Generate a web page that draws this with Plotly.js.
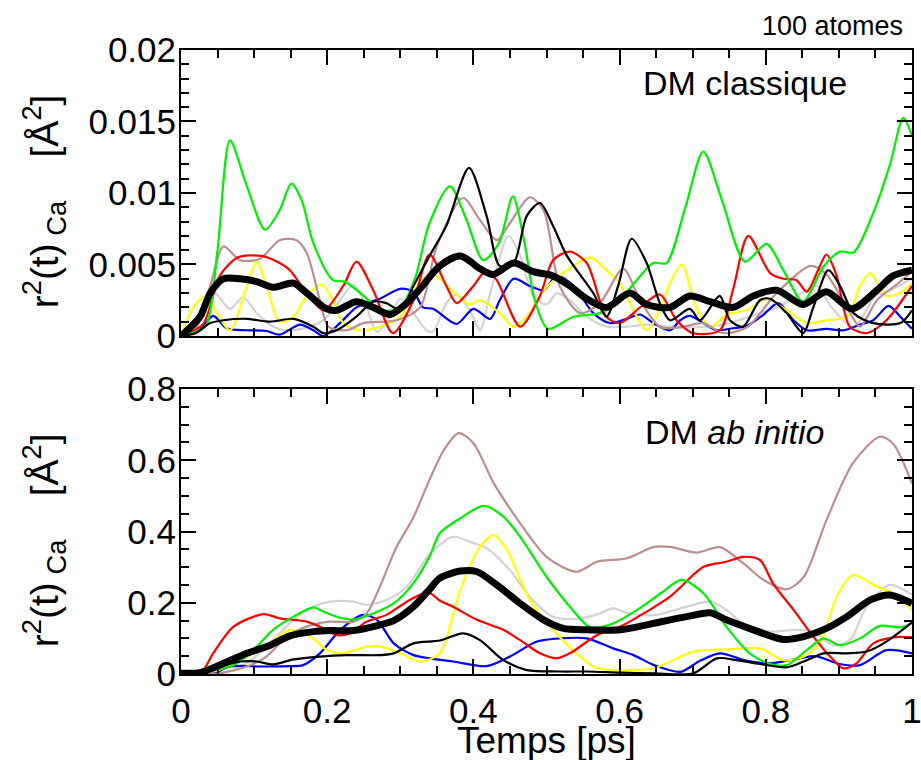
<!DOCTYPE html>
<html>
<head>
<meta charset="utf-8">
<script src="https://cdn.plot.ly/plotly-3.0.1.min.js"></script>
<style>html,body{margin:0;padding:0;background:#fff;}#chart{width:921px;height:760px;}</style>
</head>
<body>
<div id="chart"></div>
<script>
// ---------- DM classique (top panel) ----------
const clsGreenX = [0,0.02,0.035,0.05,0.067,0.09,0.115,0.135,0.151,0.165,0.181,0.208,0.224,0.25,0.272,0.30,0.32,0.34,0.368,0.39,0.4135,0.435,0.454,0.47,0.484,0.502,0.537,0.573,0.60,0.625,0.646,0.664,0.69,0.7145,0.74,0.7716,0.801,0.825,0.851,0.879,0.9015,0.92,0.947,0.97,0.988,1.0];
const clsGreenY = [0,0.0003,0.0008,0.006,0.01368,0.0105,0.00743,0.0088,0.01065,0.0095,0.0065,0.0039,0.0038,0.0028,0.0018,0.002,0.004,0.0079,0.01046,0.0082,0.0053,0.0065,0.00976,0.0065,0.0025,0.0005,0.00135,0.0016,0.0025,0.004,0.0051,0.0051,0.009,0.0129,0.0095,0.0052,0.00644,0.0045,0.0024,0.00486,0.0059,0.00584,0.0086,0.012,0.01525,0.014];

const clsRedX = [0,0.03,0.053,0.078,0.11,0.135,0.149,0.172,0.195,0.222,0.240,0.263,0.29,0.318,0.34,0.363,0.377,0.40,0.418,0.432,0.464,0.491,0.509,0.532,0.555,0.582,0.60,0.628,0.655,0.678,0.70,0.737,0.755,0.776,0.806,0.824,0.842,0.856,0.874,0.883,0.897,0.915,0.938,0.965,1.0];
const clsRedY = [0,0.0008,0.0042,0.0055,0.0056,0.0051,0.0046,0.003,0.0018,0.0035,0.0052,0.0032,0.0002,0.0025,0.0057,0.0035,0.0023,0.0035,0.0046,0.0039,0.00065,0.0028,0.0053,0.0059,0.0051,0.00135,0.0009,0.002,0.0029,0.0011,0.0002,0.0004,0.0032,0.007,0.0044,0.004,0.0039,0.0031,0.0049,0.0057,0.0042,0.00065,0.0002,0.0011,0.0035];

const clsBrownX = [0,0.02,0.04,0.058,0.081,0.108,0.135,0.158,0.172,0.19,0.2015,0.227,0.249,0.295,0.327,0.35,0.386,0.409,0.432,0.45,0.477,0.496,0.518,0.546,0.573,0.605,0.628,0.655,0.683,0.714,0.742,0.774,0.815,0.861,0.883,0.911,0.929,0.952,0.979,1.0];
const clsBrownY = [0,0.0005,0.0035,0.00626,0.0053,0.0054,0.0067,0.0067,0.0058,0.0025,0.00065,0.0004,0.0009,0.0011,0.002,0.0063,0.00965,0.0081,0.0067,0.0079,0.0097,0.0088,0.0035,0.0016,0.0023,0.0047,0.0025,0.00065,0.0006,0.0009,0.0002,0.0006,0.003,0.0049,0.0043,0.002,0.00065,0.0025,0.0036,0.0045];

const clsBlackX = [0,0.02,0.04,0.058,0.09,0.122,0.154,0.181,0.195,0.213,0.24,0.263,0.281,0.30,0.318,0.34,0.363,0.394,0.418,0.436,0.455,0.473,0.491,0.509,0.528,0.564,0.582,0.598,0.6165,0.637,0.655,0.669,0.696,0.71,0.737,0.751,0.769,0.792,0.806,0.8285,0.851,0.865,0.8855,0.9015,0.92,0.947,0.984,1.0];
const clsBlackY = [0,0.0002,0.0009,0.0011,0.0012,0.001,0.0012,0.00065,0.0002,0.0004,0.00135,0.0024,0.0023,0.0018,0.0035,0.0056,0.0077,0.01175,0.0084,0.0049,0.0051,0.0084,0.0093,0.0077,0.0056,0.003,0.00135,0.0035,0.0068,0.0051,0.0023,0.0011,0.0019,0.0011,0.0028,0.0011,0.00065,0.0025,0.0026,0.0016,0.0002,0.002,0.0046,0.0035,0.0016,0.0009,0.0009,0.0018];

const clsYellowX = [0,0.017,0.035,0.049,0.067,0.09,0.1035,0.117,0.135,0.154,0.172,0.1925,0.208,0.222,0.245,0.272,0.30,0.327,0.345,0.3725,0.395,0.409,0.436,0.455,0.477,0.496,0.523,0.5595,0.582,0.60,0.619,0.637,0.655,0.669,0.685,0.705,0.724,0.7465,0.774,0.801,0.8285,0.856,0.883,0.911,0.929,0.943,0.965,0.984,1.0];
const clsYellowY = [0,0.002,0.0028,0.0016,0.0004,0.0035,0.0052,0.0035,0.001,0.00135,0.0028,0.0036,0.0025,0.0009,0.0004,0.00065,0.00135,0.0038,0.0043,0.0031,0.0022,0.0025,0.0016,0.00065,0.0016,0.0032,0.0044,0.0055,0.0046,0.0037,0.0018,0.0004,0.0018,0.0037,0.005,0.002,0.00065,0.0015,0.0018,0.0026,0.0018,0.0009,0.0011,0.00135,0.0035,0.0044,0.0028,0.003,0.0037];

const clsBlueX = [0,0.025,0.044,0.0625,0.09,0.117,0.135,0.163,0.181,0.195,0.2175,0.24,0.272,0.30,0.318,0.331,0.345,0.377,0.40,0.423,0.436,0.455,0.477,0.496,0.514,0.537,0.564,0.587,0.61,0.628,0.646,0.669,0.683,0.696,0.7145,0.733,0.755,0.774,0.797,0.817,0.838,0.856,0.883,0.906,0.929,0.947,0.968,0.984,1.0];
const clsBlueY = [0,0.0004,0.0014,0.00054,0.0004,0.00035,0.0001,0.0008,0.0004,0,0.0009,0.002,0.0026,0.0033,0.0031,0.002,0.0019,0.00084,0.0019,0.0012,0.0025,0.004,0.0035,0.0032,0.0042,0.0035,0.0016,0.0009,0.0012,0.0015,0.0009,0.0004,0.0011,0.0014,0.0009,0.0004,0.00054,0.0007,0.0015,0.0023,0.0011,0.0004,0.0005,0.0004,0.0008,0.0011,0.0021,0.00135,0.0005];

const clsGrayX = [0,0.02,0.044,0.067,0.085,0.1035,0.126,0.149,0.172,0.195,0.2175,0.236,0.254,0.268,0.286,0.30,0.318,0.336,0.345,0.363,0.377,0.395,0.409,0.423,0.448,0.464,0.482,0.50,0.514,0.532,0.555,0.582,0.61,0.637,0.683,0.742,0.792,0.815,0.85,0.87,0.89,0.92,0.95,0.97,1.0];
const clsGrayY = [0,0.001,0.0031,0.0019,0.0027,0.0016,0.00065,0.0004,0.0006,0.0011,0.0025,0.0036,0.002,0.0003,0.00135,0.0026,0.0016,0.0004,0.0003,0.0023,0.0029,0.0018,0.0004,0.003,0.007,0.0056,0.0028,0.0022,0.003,0.0025,0.00135,0.00065,0.00065,0.0008,0.0006,0.0008,0.0016,0.002,0.003,0.0035,0.002,0.0006,0.0028,0.0032,0.004];

const clsMeanX = [0,0.026,0.04,0.058,0.081,0.1035,0.126,0.154,0.172,0.199,0.213,0.24,0.263,0.286,0.309,0.327,0.354,0.382,0.409,0.427,0.455,0.482,0.509,0.532,0.555,0.582,0.614,0.637,0.669,0.696,0.724,0.755,0.783,0.815,0.851,0.883,0.9175,0.952,0.974,1.0];
const clsMeanY = [0,0.00135,0.003,0.004,0.004,0.0038,0.0034,0.0037,0.003,0.0019,0.0018,0.0024,0.002,0.0015,0.0023,0.0033,0.0049,0.0056,0.0047,0.0043,0.0051,0.0045,0.0042,0.0035,0.0026,0.002,0.003,0.0022,0.002,0.0028,0.0024,0.002,0.0028,0.0032,0.0022,0.0031,0.0019,0.0032,0.0042,0.0046];

// ---------- DM ab initio (bottom panel) ----------
const abiRedX = [0,0.027,0.044,0.072,0.113,0.135,0.154,0.172,0.195,0.213,0.231,0.254,0.281,0.313,0.338,0.355,0.372,0.405,0.441,0.464,0.491,0.514,0.532,0.569,0.601,0.637,0.669,0.715,0.746,0.769,0.792,0.81,0.838,0.865,0.888,0.906,0.924,0.947,0.975,1.0];
const abiRedY = [0,0.003,0.058,0.133,0.168,0.156,0.152,0.147,0.128,0.109,0.114,0.147,0.166,0.208,0.229,0.205,0.189,0.152,0.124,0.095,0.058,0.044,0.058,0.109,0.133,0.175,0.217,0.301,0.315,0.329,0.320,0.254,0.180,0.105,0.049,0.016,0.030,0.086,0.103,0.103];

const abiGreenX = [0,0.044,0.072,0.099,0.126,0.154,0.181,0.195,0.218,0.236,0.263,0.291,0.318,0.341,0.354,0.382,0.414,0.441,0.464,0.5,0.532,0.56,0.591,0.624,0.656,0.685,0.715,0.746,0.778,0.806,0.829,0.856,0.879,0.901,0.929,0.956,0.984,1.0];
const abiGreenY = [0,0.011,0.025,0.067,0.124,0.161,0.187,0.175,0.158,0.153,0.170,0.198,0.255,0.334,0.395,0.437,0.472,0.442,0.385,0.273,0.189,0.131,0.142,0.180,0.226,0.264,0.226,0.133,0.058,0.028,0.025,0.067,0.100,0.081,0.100,0.135,0.131,0.142];

const abiBrownX = [0,0.053,0.09,0.117,0.145,0.172,0.204,0.236,0.254,0.272,0.295,0.318,0.341,0.36,0.38,0.40,0.428,0.464,0.5,0.541,0.569,0.61,0.647,0.669,0.706,0.737,0.769,0.797,0.829,0.852,0.883,0.919,0.956,0.974,1.0];
const abiBrownY = [0,0.002,0.021,0.049,0.105,0.133,0.147,0.147,0.170,0.245,0.357,0.44,0.55,0.63,0.676,0.648,0.535,0.423,0.329,0.287,0.315,0.325,0.357,0.357,0.341,0.356,0.311,0.264,0.238,0.273,0.432,0.591,0.666,0.647,0.535];

const abiGrayX = [0,0.06,0.09,0.126,0.154,0.181,0.204,0.236,0.254,0.281,0.309,0.341,0.372,0.395,0.418,0.45,0.477,0.509,0.546,0.573,0.591,0.61,0.647,0.692,0.724,0.746,0.769,0.806,0.838,0.865,0.892,0.915,0.938,0.97,1.0];
const abiGrayY = [0,0.005,0.030,0.095,0.152,0.189,0.203,0.203,0.194,0.208,0.245,0.339,0.385,0.371,0.353,0.292,0.217,0.161,0.156,0.170,0.184,0.172,0.165,0.189,0.203,0.180,0.142,0.119,0.124,0.119,0.081,0.095,0.189,0.250,0.222];

const abiYellowX = [0,0.05,0.1,0.13,0.149,0.177,0.2,0.222,0.254,0.272,0.3,0.327,0.354,0.382,0.409,0.428,0.446,0.477,0.509,0.541,0.569,0.61,0.647,0.701,0.746,0.792,0.824,0.852,0.874,0.897,0.919,0.952,0.975,1.0];
const abiYellowY = [0,0.01,0.06,0.1,0.124,0.105,0.067,0.058,0.077,0.077,0.058,0.035,0.058,0.236,0.357,0.390,0.348,0.208,0.124,0.058,0.016,0.011,0.016,0.063,0.069,0.072,0.039,0.049,0.086,0.217,0.278,0.245,0.226,0.180];

const abiBlueX = [0,0.044,0.067,0.113,0.149,0.167,0.19,0.218,0.249,0.268,0.291,0.318,0.341,0.372,0.418,0.45,0.487,0.519,0.555,0.591,0.619,0.647,0.683,0.71,0.737,0.774,0.806,0.846,0.868,0.901,0.929,0.965,1.0];
const abiBlueY = [0,0.002,0.021,0.021,0.022,0.025,0.058,0.124,0.166,0.152,0.086,0.053,0.044,0.035,0.022,0.049,0.091,0.100,0.100,0.072,0.053,0.025,0.006,0.037,0.058,0.037,0.030,0.044,0.050,0.028,0.025,0.067,0.058];

const abiBlackX = [0,0.044,0.081,0.104,0.126,0.154,0.19,0.227,0.272,0.291,0.318,0.354,0.386,0.409,0.441,0.473,0.519,0.555,0.601,0.647,0.701,0.733,0.76,0.792,0.829,0.852,0.879,0.911,0.938,0.965,1.0];
const abiBlackY = [0,0.016,0.035,0.035,0.027,0.041,0.049,0.053,0.053,0.058,0.086,0.094,0.114,0.095,0.039,0.011,0.007,0.007,0.004,0.002,0.002,0.044,0.039,0.028,0.019,0.035,0.058,0.058,0.063,0.091,0.145];

const abiMeanX = [0,0.026,0.053,0.09,0.122,0.149,0.181,0.204,0.236,0.263,0.291,0.318,0.341,0.354,0.382,0.405,0.432,0.464,0.496,0.523,0.555,0.601,0.637,0.669,0.692,0.724,0.746,0.783,0.824,0.852,0.883,0.911,0.943,0.97,1.0];
const abiMeanY = [0.002,0.004,0.025,0.058,0.081,0.107,0.119,0.122,0.122,0.133,0.150,0.189,0.240,0.269,0.289,0.287,0.250,0.198,0.152,0.128,0.124,0.124,0.138,0.152,0.161,0.172,0.152,0.124,0.097,0.105,0.128,0.161,0.208,0.222,0.198];

// ticks and labels
const xTickVals = [0, 0.2, 0.4, 0.6, 0.8, 1];
const xTickText = ['0', '0.2', '0.4', '0.6', '0.8', '1'];
const panelLabels = ['DM classique', 'DM <i>ab initio</i>'];
const cornerLabel = '100 atomes';
const xTitle = 'Temps [ps]';
const yTitle = 'r<sup>2</sup>(t)<sub> Ca</sub>    [Å<sup>2</sup>]';

const colors = {red:'#ff0000', green:'#00ee00', brown:'#bc8f8f', black:'#000000', yellow:'#ffff00', blue:'#0000ff', gray:'#d3d3d3'};

function tr(x, y, color, w, xa, ya) {
  return {x:x, y:y, xaxis:xa, yaxis:ya, type:'scatter', mode:'lines',
    line:{color:color, width:w, shape:'spline', smoothing:0.8}, hoverinfo:'skip'};
}

const thin = 2.2, thick = 7;
const traces = [
  tr(clsGrayX, clsGrayY, colors.gray, thin, 'x', 'y'),
  tr(clsBlueX, clsBlueY, colors.blue, thin, 'x', 'y'),
  tr(clsYellowX, clsYellowY, colors.yellow, thin, 'x', 'y'),
  tr(clsBrownX, clsBrownY, colors.brown, thin, 'x', 'y'),
  tr(clsRedX, clsRedY, colors.red, thin, 'x', 'y'),
  tr(clsGreenX, clsGreenY, colors.green, thin, 'x', 'y'),
  tr(clsBlackX, clsBlackY, colors.black, thin, 'x', 'y'),
  tr(clsMeanX, clsMeanY, colors.black, thick, 'x', 'y'),
  tr(abiGrayX, abiGrayY, colors.gray, thin, 'x2', 'y2'),
  tr(abiBlueX, abiBlueY, colors.blue, thin, 'x2', 'y2'),
  tr(abiYellowX, abiYellowY, colors.yellow, thin, 'x2', 'y2'),
  tr(abiBrownX, abiBrownY, colors.brown, thin, 'x2', 'y2'),
  tr(abiRedX, abiRedY, colors.red, thin, 'x2', 'y2'),
  tr(abiGreenX, abiGreenY, colors.green, thin, 'x2', 'y2'),
  tr(abiBlackX, abiBlackY, colors.black, thin, 'x2', 'y2'),
  tr(abiMeanX, abiMeanY, colors.black, thick, 'x2', 'y2')
];

const FONT = 'Liberation Sans, Arial, sans-serif';
function axisBase(extra) {
  return Object.assign({
    showgrid:false, zeroline:false, showline:true, linecolor:'#000', linewidth:2,
    mirror:'allticks', ticks:'inside', tickcolor:'#000', tickwidth:2, ticklen:15,
    tickfont:{family:FONT, size:35, color:'#000'}, fixedrange:true, ticklabeloverflow:'allow'
  }, extra);
}
const minorX = {dtick:0.05, ticks:'inside', ticklen:8, tickwidth:2, tickcolor:'#000'};

const layout = {
  width:921, height:760,
  margin:{l:181, r:9, t:50, b:86},
  paper_bgcolor:'#fff', plot_bgcolor:'#fff',
  showlegend:false, hovermode:false,
  font:{family:FONT, color:'#000'},
  xaxis: axisBase({domain:[0,1], anchor:'y', range:[0,1], tickmode:'array', tickvals:xTickVals, ticktext:xTickText,
    showticklabels:false, minor:Object.assign({tickmode:'linear', tick0:0}, minorX)}),
  yaxis: axisBase({domain:[0.5417,1], anchor:'x', range:[0,0.02], dtick:0.005, ticklabelstandoff:-4,
    minor:{dtick:0.001, ticks:'inside', ticklen:8, tickwidth:2, tickcolor:'#000'}}),
  xaxis2: axisBase({domain:[0,1], anchor:'y2', range:[0,1], tickmode:'array', tickvals:xTickVals, ticktext:xTickText,
    ticklabelstandoff:5, minor:Object.assign({tickmode:'linear', tick0:0}, minorX)}),
  yaxis2: axisBase({domain:[0,0.4567], anchor:'x2', range:[0,0.8], dtick:0.2, ticklabelstandoff:-4,
    minor:{dtick:0.05, ticks:'inside', ticklen:8, tickwidth:2, tickcolor:'#000'}}),
  annotations:[
    {xref:'paper', yref:'paper', x:0.9904, y:1.0385, xanchor:'right', yanchor:'middle', showarrow:false,
     text:cornerLabel, font:{family:FONT, size:27, color:'#000'}},
    {xref:'x', yref:'y', x:0.772, y:0.0177, xanchor:'center', yanchor:'middle', showarrow:false,
     text:panelLabels[0], font:{family:FONT, size:34, color:'#000'}},
    {xref:'x2', yref:'y2', x:0.758, y:0.68, xanchor:'center', yanchor:'middle', showarrow:false,
     text:panelLabels[1], font:{family:FONT, size:34, color:'#000'}},
    {xref:'paper', yref:'paper', x:0.5, y:-0.106, xanchor:'center', yanchor:'middle', showarrow:false,
     text:xTitle, font:{family:FONT, size:37, color:'#000'}},
    {xref:'paper', yref:'paper', x:-0.187, y:0.758, xanchor:'center', yanchor:'middle', showarrow:false,
     textangle:-90, text:yTitle, font:{family:FONT, size:39, color:'#000'}},
    {xref:'paper', yref:'paper', x:-0.187, y:0.215, xanchor:'center', yanchor:'middle', showarrow:false,
     textangle:-90, text:yTitle, font:{family:FONT, size:39, color:'#000'}}
  ]
};

Plotly.newPlot('chart', traces, layout, {staticPlot:true, displayModeBar:false});
</script>
</body>
</html>
